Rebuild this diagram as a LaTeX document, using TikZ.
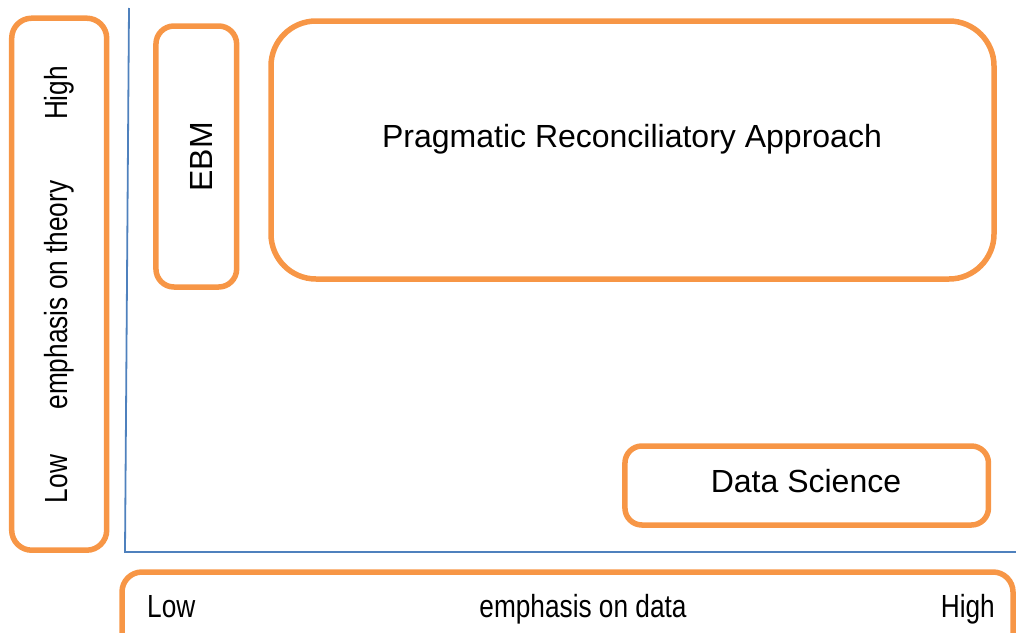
\documentclass[tikz,border=0pt]{standalone}
\usepackage{fontspec}
\setmainfont{Liberation Sans}
\newfontfamily\narrowfont[FakeStretch=0.82]{Liberation Sans}
\definecolor{boxorange}{HTML}{F79646}
\definecolor{axisblue}{HTML}{4F81BD}
\begin{document}
\begin{tikzpicture}[x=1pt,y=-1pt,
  box/.style={draw=boxorange, line width=5.5pt, rectangle, inner sep=0pt},
  label/.style={font=\fontsize{32}{38}\selectfont, inner sep=0pt, text=black},
  axislabel/.style={font=\narrowfont\fontsize{32}{38}\selectfont, inner sep=0pt, text=black},
  axis/.style={draw=axisblue, line width=1.8pt}]
\useasboundingbox (0,0) rectangle (1016,632);
\clip (0,0) rectangle (1016,632);

% axes
\coordinate (ytop) at (129,8);
\coordinate (origin) at (125,552);
\coordinate (xend) at (1020,552);
\draw[axis] (ytop) -- (origin) -- (xend);

% vertical axis label box
\node[box, rounded corners=20pt, minimum width=95pt, minimum height=532pt]
  (theorybox) at (59.2,284.2) {};
\node[axislabel, rotate=90, anchor=base] (thigh) at (67,93) {High};
\node[axislabel, rotate=90, anchor=base] (tlabel) at (67,295) {emphasis on theory};
\node[axislabel, rotate=90, anchor=base] (tlow) at (67,479) {Low};

% horizontal axis label box (runs past the lower and right edges)
\node[box, rounded corners=20pt, minimum width=891pt, minimum height=100pt]
  (databox) at (567.5,622) {};
\node[axislabel, anchor=base west] (dlow) at (147,617) {Low};
\node[axislabel, anchor=base] (dlabel) at (583,617) {emphasis on data};
\node[axislabel, anchor=base east] (dhigh) at (995,617) {High};

% regions
\node[box, rounded corners=18pt, minimum width=80.7pt, minimum height=261pt]
  (ebm) at (196.3,156.5) {};
\node[label, rotate=90, anchor=base] (ebmtext) at (212,157) {EBM};

\node[box, rounded corners=45pt, minimum width=723pt, minimum height=258pt]
  (pra) at (632.5,150) {};
\node[label, anchor=base] (pratext) at (632,147) {Pragmatic Reconciliatory Approach};

\node[box, rounded corners=17pt, minimum width=363.5pt, minimum height=79pt]
  (ds) at (806.7,485.5) {};
\node[label, anchor=base] (dstext) at (806,492) {Data Science};
\end{tikzpicture}
\end{document}
